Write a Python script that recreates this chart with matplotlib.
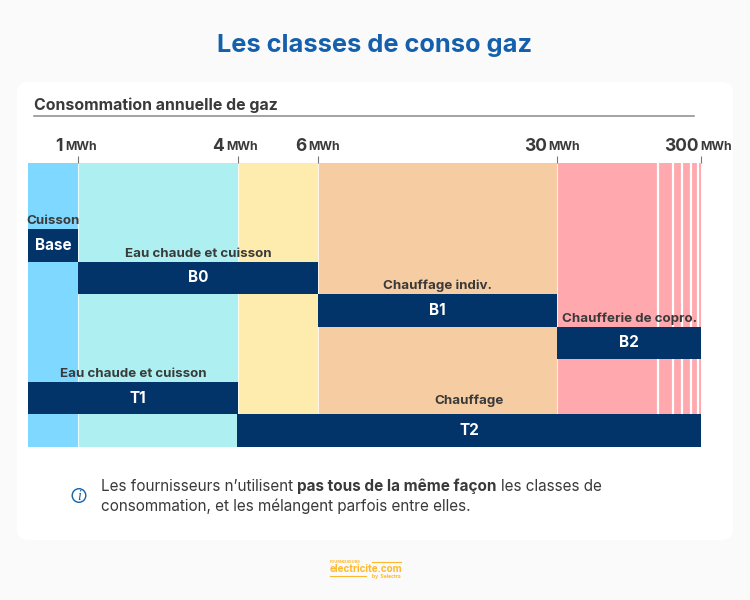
import numpy as np
import matplotlib
matplotlib.use("Agg")
import matplotlib.pyplot as plt
from matplotlib.patches import FancyBboxPatch, Circle

plt.rcParams['font.family'] = ['Inter', 'DejaVu Sans']

# ---- data ----
thresholds = [0, 1, 4, 6, 30, 300]
zone_colors = ['#7FD8FF', '#AEF0F2', '#FEECAE', '#F6CCA2', '#FFA9AE']
tick_values = [1, 4, 6, 30, 300]
tick_numbers = ['1', '4', '6', '30', '300']
stripe_breaks = [219, 247, 265, 281, 294]
classes = ['Base', 'B0', 'B1', 'B2', 'T1', 'T2']
class_start = [0, 1, 6.03, 30.5, 0, 3.98]
class_end = [1, 6, 30, 300, 4, 300]
class_lane = [0, 1, 2, 3, 4.7, 5.7]
usages = ['Cuisson', 'Eau chaude et cuisson', 'Chauffage indiv.',
          'Chaufferie de copro.', 'Eau chaude et cuisson', 'Chauffage']

# ---- style offsets (pixels) ----
name_dx = [0, 0, 0, 0, 5, 0]
usage_dy = [0, 0, 0.5, 0, 0, 5]

W, H = 750, 600
NAVY = '#02346A'
DARK = '#3A3A3A'
BLUE = '#1560AC'
fig = plt.figure(figsize=(W / 100, H / 100), dpi=100, facecolor='#FAFAFA')


def fx(x):
    return x / W


def fy(y):
    return 1 - y / H


# overlay axes in pixel units, beneath the chart
ax2 = fig.add_axes([0, 0, 1, 1], zorder=0)
ax2.set_xlim(0, W)
ax2.set_ylim(H, 0)
ax2.axis('off')
ax2.add_patch(FancyBboxPatch((17, 82), 716, 458, boxstyle='round,pad=0,rounding_size=11',
                             fc='white', ec='none'))
ax2.add_patch(Circle((79, 495.5), 6.8, fc='none', ec=BLUE, lw=1))
ax2.text(79, 496, 'i', color=BLUE, fontsize=10, style='italic', family='Liberation Serif',
         ha='center', va='center')

# main axes: MWh mapped on a piecewise scale
AX_L, AX_R, AX_T, AX_B = 28, 701, 163, 447
ax = fig.add_axes([fx(AX_L), fy(AX_B), (AX_R - AX_L) / W, (AX_B - AX_T) / H], zorder=1)
ax.patch.set_alpha(0)
px_stops = [0, 50, 210, 290, 529, 673]
ax.set_xscale('function', functions=(
    lambda v: np.interp(v, thresholds, px_stops),
    lambda p: np.interp(p, px_stops, thresholds)))
ax.set_xlim(0, 300)
ax.set_ylim(6.7, -2.03)
ax.set_yticks([])
for s in ax.spines.values():
    s.set_visible(False)

for i, c in enumerate(zone_colors):
    ax.barh(2.335, thresholds[i + 1] - thresholds[i], height=8.73,
            left=thresholds[i], color=c, lw=0, zorder=1)
for t in thresholds[1:5]:
    ax.axvline(t, color='#FFFFFF', lw=0.8, alpha=0.75, zorder=1.5)
for b in stripe_breaks:
    ax.axvline(b, color='white', lw=1.6, zorder=1.5)

for name, s, e, lane, use, ndx, udy in zip(classes, class_start, class_end, class_lane,
                                           usages, name_dx, usage_dy):
    ax.barh(lane + 0.5, e - s, height=1, left=s, color=NAVY, lw=0, zorder=2)
    mid_px = (np.interp(s, thresholds, px_stops) + np.interp(e, thresholds, px_stops)) / 2
    mid = np.interp(mid_px, px_stops, thresholds)
    ax.annotate(name, (mid, lane + 0.5), xytext=(ndx * 0.72, 0), textcoords='offset points',
                color='white', fontsize=11, fontweight='bold', ha='center', va='center', zorder=3)
    ax.annotate(use, (mid, lane), xytext=(0, (2 + udy) * 0.72), textcoords='offset points',
                color=DARK, fontsize=9.6, fontweight='bold', ha='center', va='bottom', zorder=3)

ax.set_xticks(tick_values)
ax.set_xticklabels([])
ax.minorticks_off()
ax.tick_params(axis='x', top=True, bottom=False, length=5.2, width=0.8, color='#777777',
               labeltop=False, labelbottom=False)

# tick labels: big number + small unit
num_off = [-15, -14, -12, -10, -2]
unit_off = [-13, -11.5, -10, -8.5, -1]
for v, n, a, b in zip(tick_values, tick_numbers, num_off, unit_off):
    p = AX_L + np.interp(v, thresholds, px_stops)
    fig.text(fx(p + a), fy(151), n, color=DARK, fontsize=12.5, fontweight='bold',
             ha='right', va='baseline')
    fig.text(fx(p + b), fy(150.5), 'MWh', color=DARK, fontsize=8.8, fontweight='bold',
             ha='left', va='baseline')

# titles
fig.text(fx(375), fy(52), 'Les classes de conso gaz', color=BLUE, fontsize=18.3,
         fontweight='bold', ha='center', va='baseline')
fig.text(fx(34), fy(110), 'Consommation annuelle de gaz', color=DARK, fontsize=11.45,
         fontweight='bold', ha='left', va='baseline')
fig.add_artist(plt.Line2D([fx(34), fx(694)], [fy(116), fy(116)], color='#8A8A8A', lw=1.1,
                          transform=fig.transFigure))


# info note with bold run
def run(x, y, parts):
    r = fig.canvas.get_renderer()
    for txt, w in parts:
        t = fig.text(fx(x), fy(y), txt, color=DARK, fontsize=11, fontweight=w,
                     ha='left', va='baseline')
        x += t.get_window_extent(r).width + 4.2


run(101, 491, [('Les fournisseurs n’utilisent', 'normal'), ('pas tous de la même façon', 'bold'),
               ('les classes de', 'normal')])
run(101, 511, [('consommation, et les mélangent parfois entre elles.', 'normal')])

# footer logo
YEL = '#FDB92E'
fig.text(fx(365.5), fy(572.5), 'electricite.com', color=YEL, fontsize=7.1, fontweight='bold',
         ha='center', va='baseline')
fig.text(fx(330), fy(563), 'FOURNISSEURS', color=YEL, fontsize=2.9, fontweight='bold',
         ha='left', va='baseline')
fig.text(fx(401), fy(578), 'by  Selectra', color=YEL, fontsize=3.6, fontweight='bold',
         ha='right', va='baseline')
fig.add_artist(plt.Line2D([fx(372), fx(401)], [fy(561.5), fy(561.5)], color=YEL, lw=0.8,
                          transform=fig.transFigure))
fig.add_artist(plt.Line2D([fx(330), fx(366)], [fy(576), fy(576)], color=YEL, lw=0.8,
                          transform=fig.transFigure))

fig.savefig('out.png', dpi=100, facecolor=fig.get_facecolor())
